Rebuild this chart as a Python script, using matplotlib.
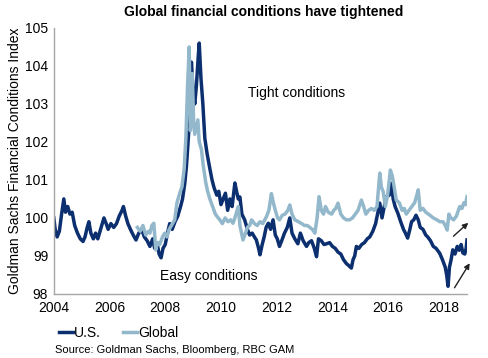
import matplotlib
matplotlib.use("Agg")
import matplotlib.pyplot as plt

plt.rcParams['font.family'] = ['Liberation Sans', 'DejaVu Sans']

# U.S. financial conditions index (year, value)
usYears = [2004.00, 2004.05, 2004.12, 2004.20, 2004.28, 2004.36, 2004.42, 2004.50, 2004.58, 2004.66,
           2004.75, 2004.85, 2004.95, 2005.05, 2005.12, 2005.20, 2005.26, 2005.33, 2005.42, 2005.50,
           2005.58, 2005.68, 2005.80, 2005.88, 2005.95, 2006.05, 2006.15, 2006.25, 2006.35, 2006.45,
           2006.50, 2006.58, 2006.66, 2006.75, 2006.85, 2006.95, 2007.05, 2007.15, 2007.25, 2007.35,
           2007.45, 2007.55, 2007.62, 2007.70, 2007.78, 2007.85, 2007.92, 2008.00, 2008.08, 2008.16,
           2008.25, 2008.35, 2008.45, 2008.55, 2008.62, 2008.70, 2008.76, 2008.82, 2008.88, 2008.94,
           2009.00, 2009.06, 2009.12, 2009.18, 2009.22, 2009.28, 2009.35, 2009.42, 2009.50, 2009.60,
           2009.68, 2009.75, 2009.85, 2009.92, 2010.00, 2010.08, 2010.16, 2010.24, 2010.32, 2010.40,
           2010.50, 2010.56, 2010.62, 2010.68, 2010.75, 2010.85, 2010.95, 2011.03, 2011.12, 2011.20,
           2011.27, 2011.35, 2011.40, 2011.48, 2011.55, 2011.62, 2011.70, 2011.78, 2011.87, 2011.95,
           2012.02, 2012.10, 2012.18, 2012.28, 2012.38, 2012.47, 2012.55, 2012.65, 2012.76, 2012.85,
           2012.95, 2013.07, 2013.15, 2013.25, 2013.35, 2013.43, 2013.50, 2013.60, 2013.70, 2013.79,
           2013.90, 2014.00, 2014.10, 2014.20, 2014.30, 2014.40, 2014.50, 2014.58, 2014.68, 2014.74,
           2014.80, 2014.86, 2014.95, 2015.05, 2015.15, 2015.25, 2015.34, 2015.45, 2015.55, 2015.62,
           2015.70, 2015.78, 2015.86, 2015.94, 2016.04, 2016.12, 2016.18, 2016.25, 2016.35, 2016.45,
           2016.55, 2016.62, 2016.70, 2016.78, 2016.84, 2016.92, 2017.00, 2017.08, 2017.15, 2017.25,
           2017.35, 2017.42, 2017.52, 2017.62, 2017.72, 2017.85, 2017.95, 2018.05, 2018.10, 2018.15,
           2018.20, 2018.26, 2018.32, 2018.40, 2018.48, 2018.55, 2018.62, 2018.68, 2018.75, 2018.80,
           2018.83]
usValues = [100.0, 99.7, 99.5, 99.65, 100.1, 100.5, 100.15, 100.3, 100.1, 100.15,
            99.8, 99.6, 99.45, 99.38, 99.5, 99.75, 99.9, 99.6, 99.45, 99.6,
            99.45, 99.7, 100.0, 99.85, 99.7, 99.85, 99.75, 99.85, 100.05, 100.2,
            100.3, 100.05, 99.85, 99.7, 99.55, 99.42, 99.6, 99.7, 99.5, 99.4,
            99.25, 99.45, 99.2, 99.35, 99.05, 98.95, 99.2, 99.3, 99.6, 99.85,
            99.7, 99.9, 100.05, 100.3, 100.5, 100.9, 101.35, 102.0, 102.7, 104.1,
            103.3, 103.0, 103.5, 104.2, 104.6, 103.7, 103.0, 102.1, 101.7, 101.3,
            101.0, 100.8, 100.6, 100.7, 100.35, 100.5, 100.65, 100.2, 100.5, 100.3,
            100.92, 100.7, 100.5, 100.55, 100.1, 99.95, 99.7, 99.55, 99.6, 99.5,
            99.42, 99.2, 99.03, 99.3, 99.5, 99.75, 99.86, 99.7, 99.95, 99.55,
            99.45, 99.25, 99.4, 99.6, 99.75, 100.0, 99.6, 99.45, 99.32, 99.6,
            99.4, 99.25, 99.35, 99.4, 99.2, 98.98, 99.45, 99.4, 99.3, 99.32,
            99.35, 99.25, 99.2, 99.1, 99.05, 98.9, 98.8, 98.75, 98.68, 98.9,
            99.0, 99.25, 99.2, 99.3, 99.35, 99.45, 99.5, 99.65, 99.85, 100.1,
            100.39, 100.0, 100.3, 100.56, 100.6, 100.91, 100.5, 100.3, 100.12, 99.9,
            99.7, 99.6, 99.47, 99.7, 99.9, 99.95, 100.07, 99.95, 99.75, 99.7,
            99.55, 99.5, 99.4, 99.25, 99.2, 99.07, 98.9, 98.7, 98.5, 98.2,
            98.7, 98.9, 99.16, 99.05, 99.25, 99.15, 99.3, 99.08, 99.05, 99.2,
            99.42]

# Global financial conditions index
glYears = [2007.00, 2007.10, 2007.20, 2007.30, 2007.40, 2007.45, 2007.52, 2007.59, 2007.66, 2007.72,
           2007.80, 2007.90, 2007.98, 2008.06, 2008.14, 2008.22, 2008.34, 2008.42, 2008.52, 2008.60,
           2008.68, 2008.74, 2008.80, 2008.86, 2008.90, 2008.94, 2008.97, 2009.02, 2009.06, 2009.12,
           2009.17, 2009.22, 2009.30, 2009.36, 2009.45, 2009.52, 2009.60, 2009.70, 2009.80, 2009.90,
           2009.96, 2010.05, 2010.15, 2010.25, 2010.35, 2010.43, 2010.50, 2010.62, 2010.68, 2010.79,
           2010.88, 2010.95, 2011.03, 2011.10, 2011.20, 2011.30, 2011.40, 2011.50, 2011.63, 2011.72,
           2011.81, 2011.88, 2011.95, 2012.03, 2012.10, 2012.20, 2012.30, 2012.40, 2012.47, 2012.55,
           2012.65, 2012.78, 2012.90, 2013.00, 2013.10, 2013.19, 2013.28, 2013.37, 2013.45, 2013.52,
           2013.60, 2013.68, 2013.75, 2013.85, 2013.97, 2014.05, 2014.12, 2014.20, 2014.30, 2014.40,
           2014.50, 2014.62, 2014.72, 2014.82, 2014.92, 2015.04, 2015.12, 2015.20, 2015.30, 2015.40,
           2015.50, 2015.60, 2015.70, 2015.76, 2015.82, 2015.90, 2015.98, 2016.08, 2016.15, 2016.22,
           2016.29, 2016.40, 2016.50, 2016.58, 2016.65, 2016.75, 2016.85, 2016.95, 2017.03, 2017.08,
           2017.15, 2017.25, 2017.35, 2017.50, 2017.62, 2017.75, 2017.85, 2017.97, 2018.05, 2018.12,
           2018.18, 2018.25, 2018.35, 2018.45, 2018.52, 2018.57, 2018.65, 2018.72, 2018.78, 2018.83]
glValues = [99.75, 99.65, 99.8, 99.55, 99.65, 99.6, 99.8, 99.86, 99.16, 99.35,
            99.3, 99.5, 99.6, 99.5, 99.7, 99.8, 99.95, 100.4, 100.65, 100.82,
            101.3, 102.1, 103.45, 104.5, 102.3, 102.6, 103.8, 102.5, 102.2, 102.4,
            102.58, 102.0, 101.8, 101.4, 100.95, 100.7, 100.5, 100.3, 100.1, 100.0,
            99.95, 99.85, 100.0, 99.9, 99.95, 99.86, 100.0, 100.3, 99.8, 99.42,
            99.6, 99.75, 99.8, 99.95, 99.85, 99.8, 99.9, 99.85, 100.03, 100.2,
            100.64, 100.4, 100.2, 100.0, 99.95, 100.07, 100.1, 100.2, 100.34, 100.1,
            99.95, 99.9, 99.85, 99.8, 99.8, 99.75, 99.7, 99.6, 100.0, 100.56,
            100.2, 100.1, 100.3, 100.15, 100.1, 100.2, 100.25, 100.39, 100.1, 100.0,
            99.95, 99.95, 100.0, 100.1, 100.2, 100.47, 100.3, 100.1, 100.2, 100.25,
            100.2, 100.3, 101.18, 100.8, 100.7, 100.3, 100.6, 101.26, 101.1, 100.8,
            100.47, 100.4, 100.2, 100.25, 100.1, 100.2, 100.3, 100.4, 100.6, 100.74,
            100.2, 100.25, 100.15, 100.07, 100.0, 99.95, 99.9, 99.9, 99.8, 99.68,
            100.1, 100.0, 99.95, 100.05, 100.2, 100.3, 100.25, 100.4, 100.35, 100.56]

xTicks = [2004, 2006, 2008, 2010, 2012, 2014, 2016, 2018]
yTicks = [98, 99, 100, 101, 102, 103, 104, 105]

usColor = '#0b2f6f'
glColor = '#93b8cb'
axisColor = '#a6a6a6'

fig = plt.figure(figsize=(4.89, 3.58), dpi=100)
ax = fig.add_axes([0.110, 0.179, 0.845, 0.743])

ax.plot(usYears, usValues, color=usColor, linewidth=2.5, label='U.S.')
ax.plot(glYears, glValues, color=glColor, linewidth=2.5, label='Global')

ax.set_xlim(2004, 2018.83)
ax.set_ylim(98, 105)
ax.set_xticks(xTicks)
ax.set_yticks(yTicks)
ax.tick_params(length=0, labelsize=10, colors='black', pad=5)
ax.tick_params(axis='y', pad=4)

for side in ['top', 'right']:
    ax.spines[side].set_visible(False)
for side in ['left', 'bottom']:
    ax.spines[side].set_color(axisColor)
    ax.spines[side].set_linewidth(1.0)

ax.set_ylabel('Goldman Sachs Financial Conditions Index', fontsize=10, labelpad=2)

ax.text(2012.72, 103.3, 'Tight conditions', fontsize=10, ha='center', va='center')
ax.text(2009.56, 98.47, 'Easy conditions', fontsize=10, ha='center', va='center')

# arrows pointing at the recent tightening
ax.annotate('', xy=(2018.95, 99.92), xytext=(2018.27, 99.47),
            arrowprops=dict(arrowstyle='-|>', color='#222222', lw=1.0, mutation_scale=8),
            annotation_clip=False)
ax.annotate('', xy=(2018.98, 98.87), xytext=(2018.33, 98.1),
            arrowprops=dict(arrowstyle='-|>', color='#222222', lw=1.0, mutation_scale=8),
            annotation_clip=False)

fig.suptitle('Global financial conditions have tightened', fontsize=10, fontweight='bold',
             x=0.54, y=0.985)

fig.legend(loc='center left', bbox_to_anchor=(0.095, 0.07), ncol=2, frameon=False,
           fontsize=10, handlelength=1.0, handletextpad=0.1, columnspacing=1.6)

fig.text(0.112, 0.022, 'Source: Goldman Sachs, Bloomberg, RBC GAM', fontsize=8, va='center')

fig.savefig('out.png', dpi=100)
